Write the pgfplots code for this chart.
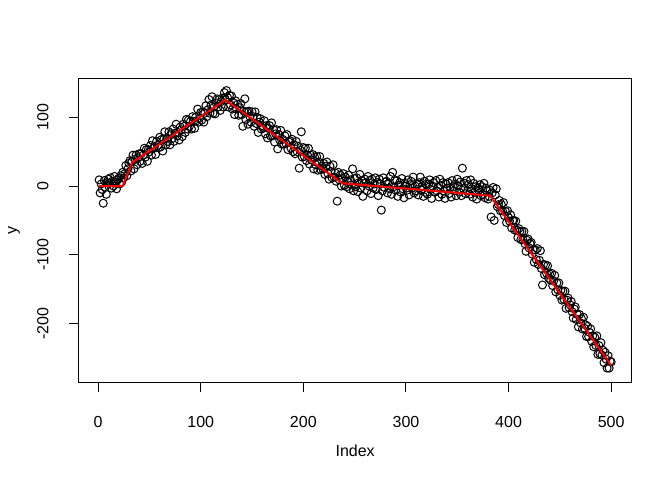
\documentclass[border=0pt]{standalone}
\usepackage{pgfplots}
\usepackage{pgfplotstable}
\pgfplotsset{compat=1.18}
\usepackage{fontspec}
\setmainfont{Liberation Sans}

\pgfplotstableread[row sep=\\]{
y\\
9\\ -10\\ 3\\ -5\\ -25\\ 8\\ -2\\ -12\\ 5\\ 10\\
4\\ 12\\ -3\\ 7\\ 0\\ 14\\ 6\\ -4\\ 9\\ 11\\
3\\ 15\\ 6\\ 20\\ 12\\ 18\\ 30\\ 15\\ 25\\ 33\\
37\\ 22\\ 36\\ 45\\ 25\\ 39\\ 45\\ 31\\ 41\\ 47\\
36\\ 47\\ 33\\ 45\\ 55\\ 42\\ 53\\ 36\\ 53\\ 50\\
59\\ 45\\ 66\\ 55\\ 58\\ 46\\ 65\\ 59\\ 56\\ 71\\
57\\ 68\\ 51\\ 68\\ 79\\ 60\\ 70\\ 65\\ 79\\ 60\\
76\\ 69\\ 83\\ 65\\ 77\\ 90\\ 73\\ 78\\ 67\\ 86\\
82\\ 72\\ 90\\ 87\\ 78\\ 97\\ 83\\ 96\\ 87\\ 94\\
83\\ 101\\ 94\\ 84\\ 100\\ 95\\ 112\\ 93\\ 99\\ 107\\
96\\ 108\\ 93\\ 106\\ 117\\ 101\\ 111\\ 126\\ 106\\ 118\\
130\\ 106\\ 115\\ 105\\ 121\\ 127\\ 115\\ 126\\ 110\\ 123\\
128\\ 115\\ 136\\ 126\\ 139\\ 129\\ 115\\ 132\\ 118\\ 131\\
112\\ 121\\ 104\\ 124\\ 112\\ 119\\ 103\\ 114\\ 120\\ 104\\
87\\ 109\\ 127\\ 97\\ 108\\ 90\\ 109\\ 101\\ 93\\ 108\\
101\\ 87\\ 108\\ 91\\ 100\\ 78\\ 93\\ 98\\ 83\\ 88\\
84\\ 95\\ 76\\ 88\\ 70\\ 84\\ 88\\ 73\\ 92\\ 73\\
82\\ 64\\ 76\\ 82\\ 54\\ 75\\ 67\\ 81\\ 61\\ 68\\
61\\ 73\\ 62\\ 75\\ 53\\ 64\\ 66\\ 55\\ 68\\ 50\\
60\\ 47\\ 65\\ 50\\ 58\\ 26\\ 52\\ 79\\ 42\\ 56\\
43\\ 55\\ 37\\ 45\\ 55\\ 32\\ 45\\ 38\\ 46\\ 25\\
42\\ 31\\ 43\\ 23\\ 35\\ 43\\ 24\\ 29\\ 25\\ 33\\
17\\ 29\\ 35\\ 18\\ 10\\ 29\\ 21\\ 12\\ 31\\ 13\\
19\\ 7\\ -22\\ 20\\ 9\\ 16\\ 0\\ 11\\ 18\\ 1\\
13\\ -1\\ 7\\ 16\\ -4\\ 9\\ 2\\ 25\\ -7\\ 11\\
-1\\ 12\\ -8\\ 5\\ 17\\ -3\\ 8\\ -15\\ 4\\ 10\\
5\\ -7\\ 14\\ 0\\ 8\\ -11\\ 10\\ -3\\ 3\\ 12\\
-5\\ 5\\ -14\\ 10\\ 3\\ -35\\ -7\\ 12\\ -2\\ 6\\
7\\ -10\\ 3\\ -4\\ 14\\ -12\\ 20\\ -1\\ 8\\ -6\\
8\\ -15\\ 1\\ 5\\ -9\\ 11\\ -4\\ -17\\ 4\\ 0\\
-6\\ 9\\ -13\\ 2\\ 7\\ -3\\ 13\\ -10\\ 0\\ -7\\
2\\ -13\\ 5\\ 13\\ -6\\ 0\\ -15\\ 7\\ -9\\ 3\\
-12\\ 3\\ 9\\ -5\\ -18\\ 0\\ 5\\ -9\\ 8\\ -7\\
-2\\ -16\\ 10\\ 1\\ -12\\ 5\\ -7\\ -18\\ 3\\ -3\\
5\\ -11\\ -2\\ -16\\ 8\\ -1\\ -7\\ 3\\ -14\\ 10\\
0\\ -9\\ 6\\ -14\\ 26\\ -4\\ 4\\ -11\\ 8\\ -7\\
2\\ -12\\ 9\\ -4\\ -16\\ 4\\ -9\\ -1\\ -19\\ -3\\
-6\\ 2\\ -14\\ -1\\ -12\\ 4\\ -17\\ -3\\ -7\\ -19\\
-15\\ -6\\ -45\\ -10\\ -2\\ -50\\ -13\\ -4\\ -30\\ -27\\
-21\\ -36\\ -27\\ -36\\ -24\\ -43\\ -37\\ -53\\ -36\\ -46\\
-51\\ -42\\ -61\\ -50\\ -50\\ -64\\ -51\\ -64\\ -75\\ -62\\
-66\\ -78\\ -66\\ -78\\ -66\\ -84\\ -95\\ -79\\ -77\\ -90\\
-84\\ -82\\ -99\\ -93\\ -111\\ -93\\ -107\\ -91\\ -114\\ -108\\
-94\\ -120\\ -144\\ -114\\ -129\\ -115\\ -127\\ -116\\ -134\\ -128\\
-137\\ -127\\ -145\\ -138\\ -130\\ -154\\ -141\\ -151\\ -141\\ -159\\
-152\\ -166\\ -153\\ -165\\ -153\\ -178\\ -166\\ -163\\ -177\\ -173\\
-168\\ -183\\ -192\\ -179\\ -176\\ -194\\ -187\\ -205\\ -187\\ -199\\
-193\\ -208\\ -191\\ -207\\ -202\\ -219\\ -204\\ -219\\ -213\\ -208\\
-226\\ -218\\ -234\\ -220\\ -232\\ -218\\ -245\\ -232\\ -244\\ -228\\
-246\\ -239\\ -257\\ -242\\ -252\\ -265\\ -247\\ -265\\ -255\\ -256\\
}\ydata

\begin{document}
\begin{tikzpicture}
\path[use as bounding box] (0,0) rectangle (504pt,360pt);
\begin{axis}[
  at={(59.0pt,73.4pt)}, anchor=south west,
  scale only axis, width=414.75pt, height=227.55pt,
  xmin=-18.96, xmax=519.96, ymin=-285.4, ymax=156.2,
  font=\fontsize{12}{14.4}\selectfont,
  /pgf/number format/assume math mode=true,
  axis line style={line width=0.75pt, black},
  xtick={0,100,200,300,400,500}, ytick={-200,-100,0,100},
  xtick pos=bottom, ytick pos=left,
  tick align=outside, major tick length=7.2pt,
  every tick/.style={black, line width=0.75pt},
  minor tick num=0,
  xticklabel style={anchor=base, yshift=-26.9pt, inner sep=0pt},
  yticklabel style={xshift=-15.5pt, rotate=90, anchor=base, inner sep=0pt},
  scaled ticks=false,
  every axis x label/.style={at={(axis description cs:0.5,0)}, anchor=base, yshift=-56pt, inner sep=0pt},
  every axis y label/.style={at={(axis description cs:0,0.5)}, xshift=-46.5pt, rotate=90, anchor=base, inner sep=0pt},
  xlabel={Index}, ylabel={y},
  clip marker paths=true,
]
\addplot[only marks, mark=o, mark size=3pt, mark options={line width=0.75pt, black}]
  table[x expr=\coordindex+1, y=y] {\ydata};
\addplot[red, line width=1.5pt, line join=round] coordinates {
  (1,0) (24,0) (33,34) (124,125.4) (238,4) (382,-14) (500,-261)
};
\end{axis}
\end{tikzpicture}
\end{document}
